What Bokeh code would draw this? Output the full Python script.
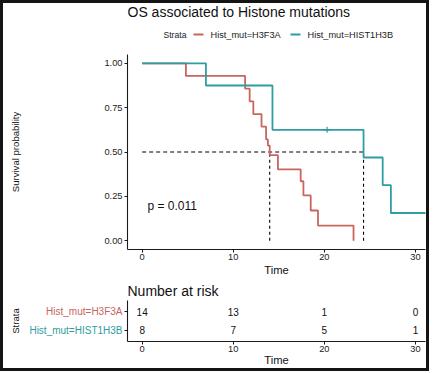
import numpy as np
from bokeh.plotting import figure
from bokeh.layouts import column, row
from bokeh.models import Range1d, FixedTicker, Label, NumeralTickFormatter
from bokeh.core.properties import value
from bokeh.embed import file_html
from bokeh.resources import INLINE

# ---------------- data ----------------
title_text = "OS associated to Histone mutations"
legend_title = "Strata"
strata = ["Hist_mut=H3F3A", "Hist_mut=HIST1H3B"]
colors = ["#C8655E", "#2E9EA0"]

h3f3a_time = [0, 4.8, 11.3, 11.8, 12.2, 13.1, 13.6, 13.8, 14.0, 14.9, 17.4, 17.7, 18.5, 19.3, 23.2]
h3f3a_surv = [1.0, 0.929, 0.857, 0.786, 0.714, 0.643, 0.571, 0.536, 0.482, 0.402, 0.335, 0.255, 0.17, 0.085, 0.0]
hist_time = [0, 7.0, 14.3, 24.3, 26.4, 27.3, 31.3]
hist_surv = [1.0, 0.875, 0.625, 0.469, 0.313, 0.156, 0.156]
censor_time = [20.3]
censor_surv = [0.625]
median_time = [14.0, 24.3]
median_level = 0.5
p_value_text = "p = 0.011"

time_ticks = [0, 10, 20, 30]
surv_ticks = [0, 0.25, 0.5, 0.75, 1.0]
risk_h3f3a = [14, 13, 1, 0]
risk_hist = [8, 7, 5, 1]

FONT = "Liberation Sans"
AX = "#1a1a1a"
W = 423
LEFT = 124
RIGHT = 1
FW = W - LEFT - RIGHT

xr = Range1d(-1.61, 31.1)


def style_axes(p):
    for ax in p.axis:
        ax.axis_line_color = AX
        ax.axis_line_width = 1.1
        ax.major_tick_line_color = AX
        ax.major_tick_out = 3
        ax.major_tick_in = 0
        ax.minor_tick_line_color = None
        ax.major_label_text_font = FONT
        ax.major_label_text_color = "#222222"
        ax.axis_label_text_font = FONT
        ax.axis_label_text_font_style = "normal"
        ax.axis_label_text_color = "#111111"
    p.grid.visible = False
    p.outline_line_color = None


def blank(p):
    p.grid.visible = False
    p.outline_line_color = None


# ---------------- header: title + legend (frame-pixel space) ----------------
HH = 49
hdr = figure(width=W, height=HH, x_range=Range1d(0, FW), y_range=Range1d(0, HH),
             x_axis_type=None, y_axis_type=None, output_backend="svg",
             toolbar_location=None, min_border_left=LEFT, min_border_right=RIGHT,
             min_border_top=0, min_border_bottom=0)
blank(hdr)
hdr.text([0], [HH - 8], text=[title_text], text_align="left", text_baseline="middle",
         text_font=value(FONT), text_font_size="14px", text_color="#111111")
ly = HH - 31
hdr.text([36], [ly], text=[legend_title], text_align="left", text_baseline="middle",
         text_font=value(FONT), text_font_size="8.6px", text_color="#222222")
key_x0 = [66, 163]
for i, (name, col) in enumerate(zip(strata, colors)):
    hdr.line([key_x0[i], key_x0[i] + 10], [ly, ly], line_color=col, line_width=1.8)
    hdr.text([key_x0[i] + 17], [ly], text=[name], text_align="left", text_baseline="middle",
             text_font=value(FONT), text_font_size="9.2px", text_color="#222222")

# ---------------- survival plot ----------------
p1 = figure(width=W, height=226, x_range=xr, y_range=Range1d(-0.05, 1.05),
            output_backend="svg", toolbar_location=None,
            min_border_left=LEFT, min_border_right=RIGHT, min_border_top=2, min_border_bottom=29)
style_axes(p1)
p1.xaxis.ticker = FixedTicker(ticks=time_ticks)
p1.yaxis.ticker = FixedTicker(ticks=surv_ticks)
p1.yaxis.formatter = NumeralTickFormatter(format="0.00")
p1.xaxis.major_label_text_font_size = "9.3px"
p1.yaxis.major_label_text_font_size = "9.3px"
p1.xaxis.major_label_standoff = 1
p1.yaxis.major_label_standoff = 2
p1.xaxis.axis_label = "Time"
p1.xaxis.axis_label_text_font_size = "11.2px"
p1.xaxis.axis_label_standoff = 1
p1.yaxis.axis_label = "Survival probability"
p1.yaxis.axis_label_text_font_size = "9.6px"
p1.yaxis.axis_label_standoff = 80

p1.line([0, max(median_time)], [median_level, median_level], line_color="black",
        line_width=1.1, line_dash="4 3")
for m in median_time:
    p1.line([m, m], [0, median_level], line_color="black", line_width=1.1, line_dash="3 3")

p1.step(h3f3a_time, h3f3a_surv, mode="after", line_color=colors[0], line_width=1.8)
p1.step(hist_time, hist_surv, mode="after", line_color=colors[1], line_width=1.8)
p1.scatter(censor_time, censor_surv, marker="cross", size=6, line_color=colors[1], line_width=1.2)

p1.add_layout(Label(x=0.58, y=0.196, text=p_value_text, text_font=FONT,
                    text_font_size="12px", text_baseline="middle", text_color="#111111"))

# ---------------- risk table (labels figure + table figure) ----------------
RH = 90
RT, RB = 22, 27
LW = LEFT - 4
rows_y = [2, 1]
yr2 = Range1d(0.4, 2.6)

lab = figure(width=LW, height=RH, x_range=Range1d(0, LW), y_range=yr2,
             x_axis_type=None, y_axis_type=None, output_backend="svg",
             toolbar_location=None, min_border_left=0, min_border_right=0,
             min_border_top=RT, min_border_bottom=RB)
blank(lab)
lab.text([LW - 1] * 2, rows_y, text=strata, text_color=colors, text_align="right",
         text_baseline="middle", text_font=value(FONT), text_font_size="10px")
lab.text([12], [sum(rows_y) / 2], text=["Strata"], angle=np.pi / 2, text_align="center",
         text_baseline="middle", text_font=value(FONT), text_font_size="9.6px",
         text_color="#111111")

p2 = figure(width=W - LW, height=RH, x_range=xr, y_range=yr2,
            output_backend="svg", toolbar_location=None,
            min_border_left=LEFT - LW, min_border_right=RIGHT, min_border_top=RT,
            min_border_bottom=RB)
p2.title.text = "Number at risk"
p2.title.align = "left"
p2.title.text_font = FONT
p2.title.text_font_size = "14px"
p2.title.text_font_style = "normal"
p2.title.text_color = "#111111"
p2.title.standoff = 4
style_axes(p2)
p2.xaxis.ticker = FixedTicker(ticks=time_ticks)
p2.xaxis.major_label_text_font_size = "9.3px"
p2.xaxis.major_label_standoff = 1
p2.xaxis.axis_label = "Time"
p2.xaxis.axis_label_text_font_size = "11.2px"
p2.xaxis.axis_label_standoff = -1
p2.yaxis.ticker = FixedTicker(ticks=rows_y)
p2.yaxis.major_label_overrides = {1: "", 2: ""}
p2.yaxis.major_label_standoff = 0

tx, ty, tt = [], [], []
for ry, counts in zip(rows_y, [risk_h3f3a, risk_hist]):
    for t, n in zip(time_ticks, counts):
        tx.append(t)
        ty.append(ry)
        tt.append(str(n))
p2.text(tx, ty, text=tt, text_align="center", text_baseline="middle",
        text_font=value(FONT), text_font_size="10px", text_color="#111111")

layout = column(hdr, p1, row(lab, p2, spacing=0), spacing=0,
                styles={"border": "3px solid #141414"})
open("out.html", "w").write(file_html(layout, INLINE))
